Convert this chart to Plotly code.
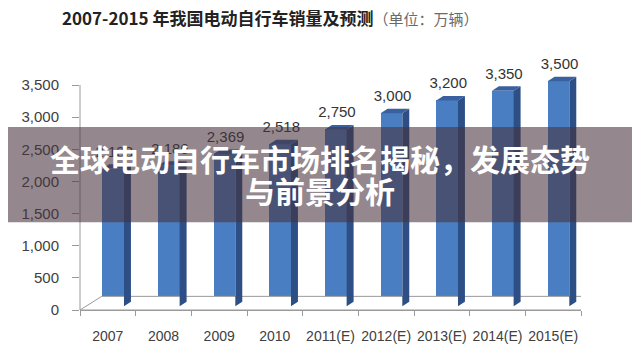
import plotly.graph_objects as go

# ---------------- data ----------------
categories = ["2007", "2008", "2009", "2010", "2011(E)", "2012(E)", "2013(E)", "2014(E)", "2015(E)"]
sales = [2138, 2186, 2369, 2518, 2750, 3000, 3200, 3350, 3500]
y_ticks = [0, 500, 1000, 1500, 2000, 2500, 3000, 3500]
title_main = "2007-2015 年我国电动自行车销量及预测"
title_unit = "（单位：万辆）"
overlay_line1 = "全球电动自行车市场排名揭秘，发展态势"
overlay_line2 = "与前景分析"

# ---------------- geometry / style ----------------
OFF = 8                     # page body margin of the browser
W, H = 640 - OFF, 356 - OFF
# plot area in page pixels
PL, PR, PT, PB = 80, 581, 50, 317
ML, MR, MT, MB = PL - OFF, W - (PR - OFF), PT - OFF, H - (PB - OFF)
plot_w = PR - PL
plot_h = PB - PT
px_per_unit = 231 / 3500.0
y_top = plot_h / px_per_unit

FACE_L = -0.10      # front face left offset from category centre
FACE_W = 0.39       # front face width
DX = 0.125          # depth (x, category units)
DY = 70             # depth (y, value units)
BASE = 60           # bars float slightly above front edge of floor
FLOOR_DY = 212
FLOOR_DX_L = 0.39
FLOOR_DX_R = 0.32
LABEL_GAP = 60

FRONT = "#4A7EC2"
SIDE = "#2D4F86"
TOP = "#3A619F"
AXIS = "#9A9A9A"
FONT = "Liberation Sans"

n = len(categories)
xs = list(range(n))

fig = go.Figure()

# floor
fx = [-0.5, n - 0.5, n - 0.5 + FLOOR_DX_R, -0.5 + FLOOR_DX_L, -0.5]
fy = [0, 0, FLOOR_DY, FLOOR_DY, 0]
fig.add_trace(go.Scatter(x=fx, y=fy, mode="lines", line=dict(color=AXIS, width=1),
                         fill="toself", fillcolor="white", hoverinfo="skip", showlegend=False))

# front faces
fig.add_trace(go.Bar(x=[i + FACE_L + FACE_W / 2 for i in xs], y=sales, base=BASE,
                     width=FACE_W, marker=dict(color=FRONT, line=dict(width=0)),
                     showlegend=False, hoverinfo="skip"))

# side faces
sx, sy = [], []
for i, v in zip(xs, sales):
    r = i + FACE_L + FACE_W
    sx += [r, r, r + DX, r + DX, r, None]
    sy += [BASE, BASE + v, BASE + v + DY, BASE + DY, BASE, None]
fig.add_trace(go.Scatter(x=sx, y=sy, mode="lines", line=dict(width=0, color=SIDE),
                         fill="toself", fillcolor=SIDE, hoverinfo="skip", showlegend=False))

# top faces
tx, ty = [], []
for i, v in zip(xs, sales):
    l = i + FACE_L
    r = l + FACE_W
    t = BASE + v
    tx += [l, r, r + DX, l + DX, l, None]
    ty += [t, t, t + DY, t + DY, t, None]
fig.add_trace(go.Scatter(x=tx, y=ty, mode="lines", line=dict(width=0, color=TOP),
                         fill="toself", fillcolor=TOP, hoverinfo="skip", showlegend=False))

# value labels
fig.add_trace(go.Scatter(x=[i + FACE_L + FACE_W / 2 + 0.02 for i in xs],
                         y=[BASE + v + DY + LABEL_GAP for v in sales], mode="text",
                         text=[f"{v:,}" for v in sales], textposition="top center",
                         textfont=dict(family=FONT, size=15, color="#333333"),
                         cliponaxis=False, hoverinfo="skip", showlegend=False))

fig.update_layout(
    width=W, height=H,
    margin=dict(l=ML, r=MR, t=MT, b=MB, pad=0),
    paper_bgcolor="white", plot_bgcolor="white",
    bargap=0,
    title=dict(text=(f"<b>{title_main}</b>"
                     f"<span style='font-size:15px;color:#6a6a6a'>{title_unit}</span>"),
               x=(62 - OFF) / W, xanchor="left", xref="container",
               y=1 - (19 - OFF) / H, yanchor="middle", yref="container",
               font=dict(family="Noto Sans CJK SC", size=17, color="#222222")),
    xaxis=dict(range=[-0.5, n - 0.5], tickmode="array", tickvals=xs, ticktext=categories,
               showgrid=False, zeroline=False, showline=True, linecolor=AXIS, linewidth=1,
               ticks="", ticklabelstandoff=13,
               tickfont=dict(family=FONT, size=14, color="#404040"),
               minor=dict(tickmode="array", tickvals=[i - 0.5 for i in range(n + 1)],
                          ticks="outside", ticklen=5, tickcolor=AXIS, tickwidth=1)),
    yaxis=dict(range=[0, y_top], tickmode="array", tickvals=y_ticks,
               ticktext=[f"{t:,}" for t in y_ticks],
               showgrid=False, zeroline=False, showline=False,
               ticks="outside", ticklen=7, tickcolor=AXIS, tickwidth=1, ticklabelstandoff=10,
               tickfont=dict(family=FONT, size=15, color="#404040")),
)

# y axis line (only up to the last tick)
fig.add_shape(type="line", xref="paper", yref="y", x0=0, x1=0, y0=0, y1=y_ticks[-1],
              line=dict(color=AXIS, width=1), layer="above")

# overlay band
band_top_px, band_bot_px = 129, 227
fig.add_shape(type="rect", xref="paper", yref="paper",
              x0=-(PL) / plot_w - 0.02, x1=1 + (640 - PR) / plot_w + 0.02,
              y0=(PB - band_bot_px) / plot_h, y1=(PB - band_top_px) / plot_h,
              fillcolor="rgba(70,50,60,0.58)", line=dict(width=0), layer="above")

cx = (320 - PL) / plot_w
for txt, ypx in [(overlay_line1, 161), (overlay_line2, 194)]:
    fig.add_annotation(text=f"<b>{txt}</b>", xref="paper", yref="paper",
                       x=cx, y=(PB - ypx) / plot_h, xanchor="center", yanchor="middle",
                       showarrow=False,
                       font=dict(family="Noto Sans CJK SC", size=30, color="white"))

fig.write_html("out.html")
